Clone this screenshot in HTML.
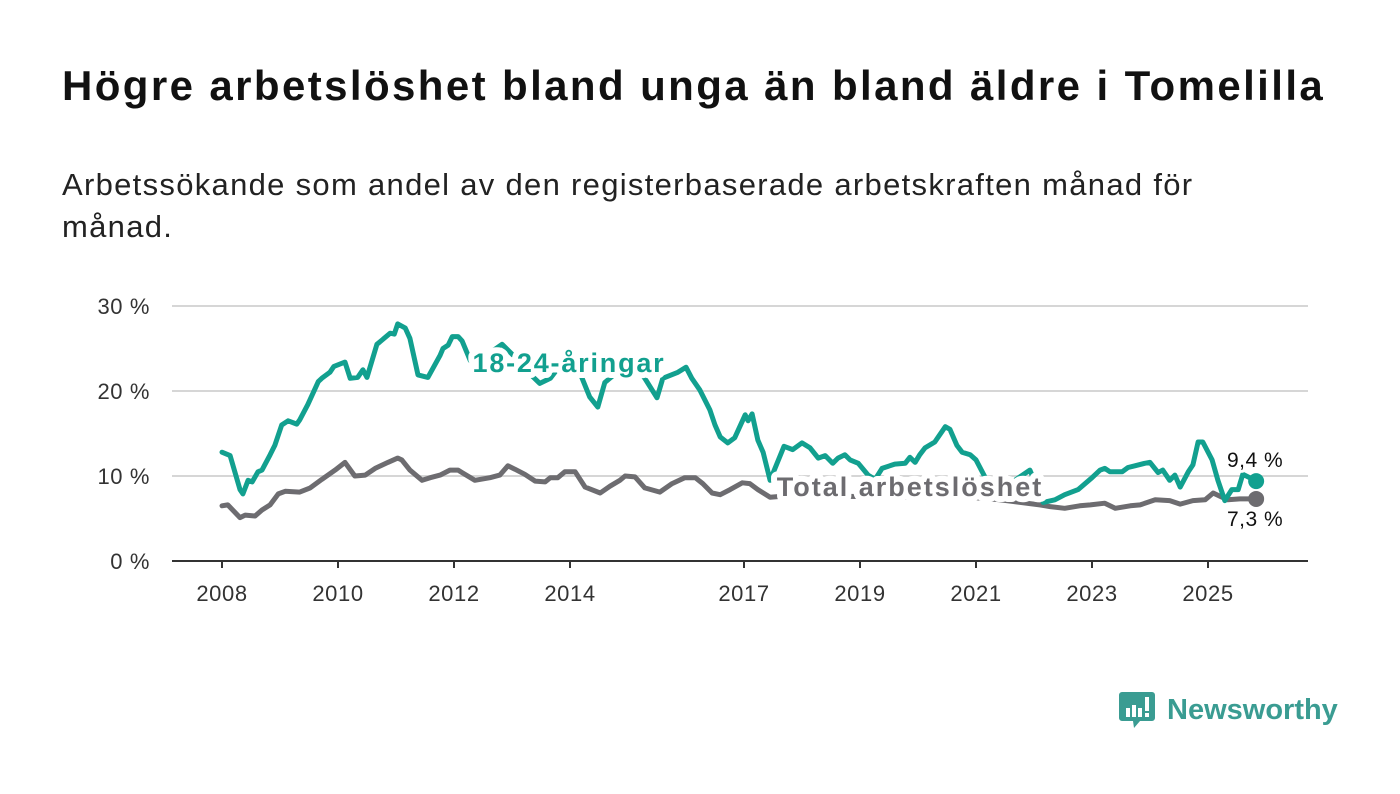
<!DOCTYPE html>
<html><head><meta charset="utf-8">
<style>
html,body{margin:0;padding:0;background:#fff;}
body{width:1400px;height:794px;position:relative;overflow:hidden;font-family:"Liberation Sans",sans-serif;color:#111;}
#title{position:absolute;left:62px;top:62px;font-size:42px;font-weight:bold;margin:0;white-space:nowrap;letter-spacing:2.4px;}
#subtitle{position:absolute;left:62px;top:164px;font-size:31px;line-height:42px;width:1250px;margin:0;color:#222;letter-spacing:1.3px;}
svg{position:absolute;left:0;top:0;}
</style></head>
<body>
<h1 id="title">Högre arbetslöshet bland unga än bland äldre i Tomelilla</h1>
<p id="subtitle">Arbetssökande som andel av den registerbaserade arbetskraften månad för månad.</p>
<svg id="chart" width="1400" height="794"></svg>
<script>
const yTicks=[0,10,20,30];
const yTickLabels=["0 %","10 %","20 %","30 %"];
const xTicks=[2008,2010,2012,2014,2017,2019,2021,2023,2025];
const youthDates=[0,.14,.31,.36,.45,.52,.62,.69,.83,.91,1.03,1.14,1.29,1.34,1.48,1.66,1.72,1.86,1.93,2.12,2.21,2.34,2.43,2.5,2.67,2.76,2.9,2.97,3.03,3.16,3.24,3.38,3.55,3.76,3.81,3.9,3.97,4.07,4.14,4.28,4.45,4.62,4.83,5.05,5.31,5.48,5.66,5.83,6.09,6.34,6.48,6.6,6.86,7.12,7.29,7.5,7.6,7.86,8,8.1,8.24,8.41,8.5,8.59,8.72,8.84,9.02,9.07,9.14,9.24,9.33,9.45,9.69,9.84,10,10.14,10.28,10.4,10.53,10.62,10.74,10.83,10.97,11.14,11.26,11.38,11.6,11.78,11.86,11.95,12.03,12.12,12.29,12.47,12.55,12.67,12.76,12.9,13,13.16,13.41,13.67,13.93,14.16,14.36,14.53,14.76,15,15.14,15.22,15.31,15.52,15.62,15.74,15.91,16,16.14,16.22,16.34,16.43,16.52,16.66,16.74,16.83,16.91,17.07,17.17,17.29,17.41,17.52,17.6,17.72,17.83];
const youthValues=[12.8,12.4,8.4,7.9,9.5,9.3,10.5,10.7,12.5,13.6,16,16.5,16.1,16.6,18.4,21.1,21.5,22.2,22.9,23.4,21.5,21.6,22.5,21.6,25.5,26,26.8,26.7,27.9,27.4,26.2,21.9,21.6,24.2,25,25.4,26.4,26.4,25.9,23.6,23,24.5,25.5,24,22,20.9,21.5,23,23.5,19.3,18.1,21,22.5,23,21.5,19.2,21.5,22.2,22.8,21.5,20.1,17.8,16,14.6,13.9,14.5,17.2,16.5,17.3,14.2,12.8,9.5,13.5,13.1,13.9,13.3,12.1,12.4,11.5,12.1,12.5,11.9,11.5,10.1,9.6,10.9,11.4,11.5,12.2,11.6,12.5,13.3,14,15.8,15.5,13.6,12.8,12.5,11.9,9.8,9,9.5,10.7,6.9,7.2,7.8,8.4,9.8,10.7,10.9,10.5,10.5,11,11.2,11.5,11.6,10.4,10.7,9.5,10.1,8.7,10.5,11.3,14,14,11.9,9.5,7.1,8.4,8.4,10.2,9.8,9.4];
const totalDates=[0,.1,.31,.4,.57,.69,.83,.97,1.09,1.34,1.52,1.72,1.95,2.12,2.29,2.47,2.64,2.86,3.03,3.1,3.24,3.45,3.59,3.76,3.93,4.07,4.14,4.36,4.62,4.79,4.93,5.05,5.22,5.4,5.57,5.66,5.79,5.91,6.09,6.26,6.52,6.69,6.86,6.95,7.12,7.29,7.55,7.76,7.98,8.16,8.29,8.45,8.59,8.76,8.97,9.1,9.24,9.45,9.97,10.83,11.69,12.55,13.41,14.1,14.28,14.53,14.79,14.97,15.22,15.4,15.66,15.83,16.09,16.34,16.52,16.74,16.95,17.09,17.21,17.34,17.55,17.83];
const totalValues=[6.5,6.6,5.1,5.4,5.3,6,6.6,7.9,8.2,8.1,8.6,9.6,10.7,11.6,10,10.1,10.9,11.6,12.1,11.9,10.7,9.5,9.8,10.1,10.7,10.7,10.4,9.5,9.8,10.1,11.2,10.8,10.2,9.4,9.3,9.8,9.8,10.5,10.5,8.7,8,8.8,9.5,10,9.9,8.6,8.1,9.1,9.8,9.8,9.1,8,7.8,8.4,9.2,9.1,8.4,7.5,7.8,7.6,7.5,7.7,7.2,6.6,6.4,6.2,6.5,6.6,6.8,6.2,6.5,6.6,7.2,7.1,6.7,7.1,7.2,8,7.6,7.2,7.3,7.3];

const NS="http://www.w3.org/2000/svg";
const svg=document.getElementById('chart');
const X=t=>222+(t-2008)*58;
const Y=v=>561-v*8.5;
function mk(tag,attrs,parent){const e=document.createElementNS(NS,tag);for(const k in attrs)e.setAttribute(k,attrs[k]);(parent||svg).appendChild(e);return e;}

yTicks.forEach((v,i)=>{
  const l=mk('line',{x1:172,x2:1308,y1:Y(v),y2:Y(v),stroke:v===0?'#333':'#d6d6d6','stroke-width':2});
  
  
  const t=mk('text',{x:150,y:Y(v)+8,'text-anchor':'end','font-size':22,'letter-spacing':0.6,fill:'#333','font-family':'Liberation Sans, sans-serif'});
  t.textContent=yTickLabels[i];
  
  
});
xTicks.forEach(y=>{
  const tk=mk('line',{x1:X(y),x2:X(y),y1:561,y2:568,stroke:'#333','stroke-width':2});
  
  
  const t=mk('text',{x:X(y),y:601,'text-anchor':'middle','font-size':22,'letter-spacing':0.6,fill:'#333','font-family':'Liberation Sans, sans-serif'});
  t.textContent=String(y);
  
  
});
function line(dates,vals,color,name){
  const d=dates.map((t,i)=>(i?'L':'M')+X(2008+t).toFixed(1)+','+Y(vals[i]).toFixed(1)).join('');
  const p=mk('path',{d:d,fill:'none',stroke:color,'stroke-width':5,'stroke-linejoin':'round','stroke-linecap':'round'});
  
  
  const n=dates.length-1;
  const c=mk('circle',{cx:X(2008+dates[n]),cy:Y(vals[n]),r:8,fill:color});
  
  
}
line(totalDates,totalValues,'#6d6c70','total-line');
line(youthDates,youthValues,'#12a08f','youth-line');
function label(txt,x,y,color,size,bold,name,anchor,ls){
  const t=mk('text',{x:x,y:y,'text-anchor':anchor||'middle','font-size':size,'letter-spacing':ls||0,'font-weight':bold?'bold':'normal',fill:color,stroke:'#fff','stroke-width':bold?12:6,'paint-order':'stroke','stroke-linejoin':'round','font-family':'Liberation Sans, sans-serif'});
  t.textContent=txt;
  
  
}
label('18-24-åringar',569,372,'#12a08f',27,true,'youth-series-label','middle',1.8);
label('Total arbetslöshet',910,496,'#6d6c70',27,true,'total-series-label','middle',2);
const yl=youthValues[youthValues.length-1], tl=totalValues[totalValues.length-1];
label(yl.toFixed(1).replace('.',',')+' %',1227,467,'#111',21,false,'youth-end-value','start',0.5);
label(tl.toFixed(1).replace('.',',')+' %',1227,526,'#111',21,false,'total-end-value','start',0.5);

// logo
const g=mk('g',{});


mk('path',{d:'M1122,692 h30 a3,3 0 0 1 3,3 v23 a3,3 0 0 1 -3,3 h-12 l-6,7 l-1,-7 h-11 a3,3 0 0 1 -3,-3 v-23 a3,3 0 0 1 3,-3z',fill:'#3a9c92'},g);
mk('rect',{x:1126,y:708,width:4,height:9,fill:'#fff'},g);
mk('rect',{x:1132,y:705,width:4,height:12,fill:'#fff'},g);
mk('rect',{x:1138,y:708,width:4,height:9,fill:'#fff'},g);
mk('rect',{x:1145,y:697,width:4,height:14,fill:'#fff'},g);
mk('rect',{x:1145,y:713,width:4,height:4,fill:'#fff'},g);
const lt=mk('text',{x:1167,y:719,'font-size':29,'font-weight':'bold',fill:'#3a9c92','font-family':'Liberation Sans, sans-serif'},g);
lt.textContent='Newsworthy';
</script>
</body></html>
